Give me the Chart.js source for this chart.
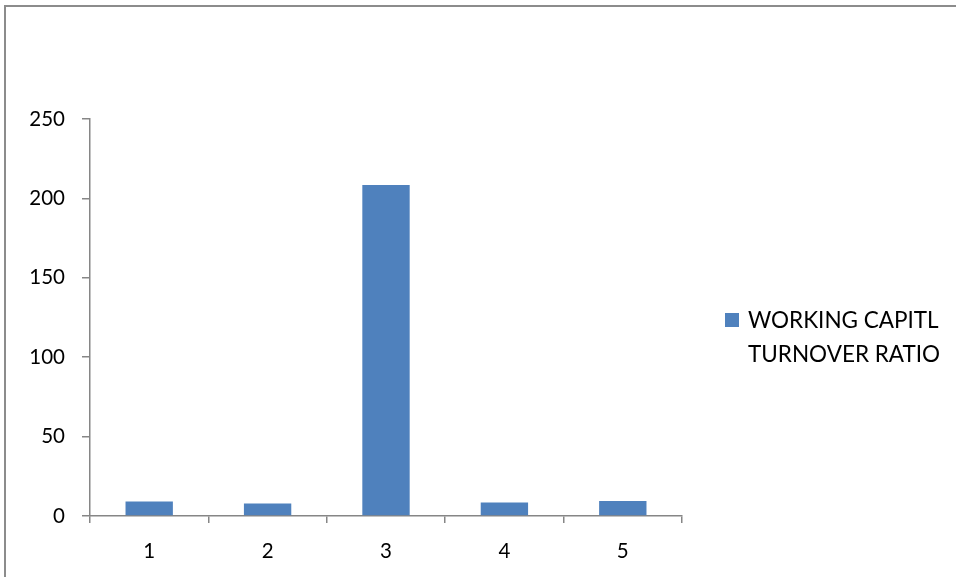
<!DOCTYPE html>
<html>
<head>
<meta charset="utf-8">
<script src="https://cdn.jsdelivr.net/npm/chart.js@4.4.1/dist/chart.umd.min.js"></script>
<style>
  html, body { margin: 0; padding: 0; background: #fff; }
  #wrap { position: relative; width: 956px; height: 577px; overflow: hidden; }
  #frame { position: absolute; left: 4px; top: 5px; width: 1000px; height: 1000px;
           border-top: 2px solid #8c8c8c; border-left: 2px solid #8c8c8c; }
  canvas { position: absolute; left: 0; top: 0; }
</style>
</head>
<body>
<div id="wrap">
  <div id="frame"></div>
  <canvas id="chart" width="956" height="577"></canvas>
</div>
<script>
// Years 1-5 and the working capital turnover ratio for each
const categories = ['1', '2', '3', '4', '5'];
const ratioValues = [9.2, 7.8, 208.5, 8.5, 9.5];
const yTicks = [0, 50, 100, 150, 200, 250];
const seriesLabel = ['WORKING CAPITL', 'TURNOVER RATIO'];

const FONT = 'Lato, "Liberation Sans", sans-serif';
const BAR_COLOR = '#4F81BD';
const AXIS_COLOR = '#868686';

// Legend drawn at the right of the plot, label on two lines
const sideLegend = {
  id: 'sideLegend',
  afterDraw(chart) {
    const ctx = chart.ctx;
    const ds = chart.data.datasets[0];
    const x = 725, y = 313, box = 14;
    ctx.save();
    ctx.fillStyle = ds.backgroundColor;
    ctx.fillRect(x, y, box, box);
    ctx.fillStyle = '#000';
    ctx.font = '22.5px ' + FONT;
    ctx.textBaseline = 'alphabetic';
    ctx.textAlign = 'left';
    ds.label.forEach((line, i) => ctx.fillText(line, 748, 328 + i * 34));
    ctx.restore();
  }
};

new Chart(document.getElementById('chart'), {
  type: 'bar',
  data: {
    labels: categories,
    datasets: [{
      label: seriesLabel,
      data: ratioValues,
      backgroundColor: BAR_COLOR,
      borderWidth: 0,
      categoryPercentage: 1.0,
      barPercentage: 0.4
    }]
  },
  options: {
    responsive: false,
    animation: false,
    layout: { padding: { left: 0, top: 119, right: 274, bottom: 0 } },
    plugins: {
      legend: { display: false },
      tooltip: { enabled: false }
    },
    scales: {
      x: {
        grid: { drawOnChartArea: false, drawTicks: true, tickLength: 7, color: AXIS_COLOR, lineWidth: 1.5 },
        border: { color: AXIS_COLOR, width: 1.5 },
        ticks: { color: '#000', font: { family: FONT, size: 20.5 }, padding: 16 },
        afterFit(scale) { scale.height = 61; }
      },
      y: {
        min: 0,
        max: 250,
        afterBuildTicks(scale) { scale.ticks = yTicks.map(v => ({ value: v })); },
        grid: { drawOnChartArea: false, drawTicks: true, tickLength: 8, color: AXIS_COLOR, lineWidth: 1.5 },
        border: { color: AXIS_COLOR, width: 1.5 },
        ticks: { color: '#000', font: { family: FONT, size: 20.5 }, padding: 17 },
        afterFit(scale) { scale.width = 90; }
      }
    }
  },
  plugins: [sideLegend]
});
</script>
</body>
</html>
